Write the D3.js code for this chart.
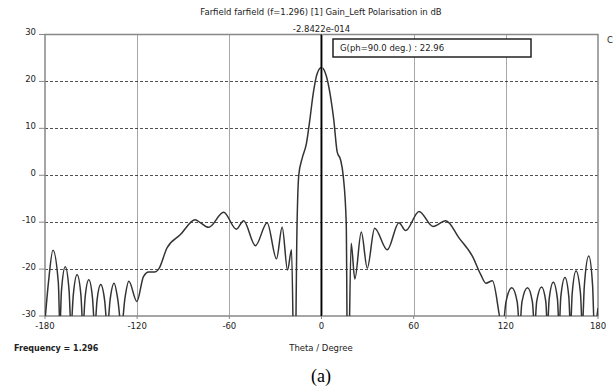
<!DOCTYPE html>
<html>
<head>
<meta charset="utf-8">
<script src="https://cdn.jsdelivr.net/npm/d3@7"></script>
<style>
  body { margin: 0; background: #fff; }
  svg { display: block; }
  text { font-family: "DejaVu Sans", sans-serif; fill: #222; }
</style>
</head>
<body>
<svg id="chart" width="613" height="390"></svg>
<script>
// farfield cut, theta in degrees vs gain in dB (values below -30 are clipped)
const theta = [
  -180, -177.8, -174.8, -171.3, -170.3, -169.3, -166.8, -164.3, -163.1, -161.6, -159.1, -156.6,
  -155.3, -153.9, -151.5, -149.1, -147.6, -146.1, -143.7, -141.2, -139.4, -137.6, -135, -132.6,
  -130.2, -128, -125.4, -120.2, -115.9, -112.5, -108.5, -106, -100.6, -92, -82.2, -78.9, -73.5,
  -63.7, -55.4, -50.7, -43, -35.4, -29.3, -25.6, -22.1, -19.5, -17.5, -15.9, -14.8, -12.6, -9.8,
  -7.6, -5.4, -2.8, 0, 3, 5.9, 8, 10.2, 12.4, 14.1, 16.1, 17.1, 19.3, 21.7, 25.9, 29.8, 34.6,
  42.8, 50.4, 54.8, 63.5, 72.6, 80.9, 89.6, 98.3, 103.7, 107, 111.3,
  118, 120.1, 123.9, 127.4, 129, 130.5, 134.1, 137.3, 138.7, 140.1, 143.3, 146,
  147.1, 148.2, 150.9, 153.6, 154.7, 155.8, 158.5, 161, 162.1, 163.2, 165.7, 168.6,
  169.8, 171.1, 174, 176.5, 177.6, 180];
const gainDb = [
  -31, -23, -16.0, -23, -32.5, -24.7, -19.5, -24.7, -32.5, -25.6, -21.2, -25.6,
  -32.5, -26.1, -22.3, -26.1, -32.5, -26.6, -23.3, -26.6, -32.5, -26.5, -23.0, -26.5,
  -32.5, -26.3, -22.6, -26.9, -21.6, -20.6, -20.6, -20.0, -15.5, -12.7, -9.5, -10.1, -11.1,
  -7.9, -11.5, -9.7, -15.0, -10.1, -17.8, -11.1, -20.2, -15.9, -50, -10.2, 0, 3.6, 6.8,
  11.8, 17.4, 21.7, 22.96, 21.3, 16.7, 11.8, 5.0, 3.3, 0, -10.2, -50, -14.5, -22.1, -12.1, -19.8, -11.3,
  -15.9, -10.1, -11.8, -7.7, -10.9, -9.7, -13.4, -17.3, -21.2, -23, -22.5,
  -32.5, -27, -24, -27, -32.5, -27, -24, -27, -32.5, -26.9, -23.8, -26.9,
  -32.5, -26.4, -22.8, -26.4, -32.5, -25.9, -21.8, -25.9, -32.5, -25.2, -20.4, -25.2,
  -32.5, -23.6, -17.2, -23.6, -32.5, -28.3];

const xTicks = [-180, -120, -60, 0, 60, 120, 180];
const yTicks = [-30, -20, -10, 0, 10, 20, 30];

const titleText = "Farfield farfield (f=1.296) [1] Gain_Left Polarisation in dB";
const markerText = "-2.8422e-014";
const annotText = "G(ph=90.0 deg.) : 22.96";

const svg = d3.select("#chart");
const plotL = 45, plotR = 598, plotT = 34.5, plotB = 316;

const x = d3.scaleLinear().domain([-180, 180]).range([plotL, plotR]);
const y = d3.scaleLinear().domain([-30, 30]).range([plotB, plotT]);

// grid
svg.append("g").selectAll("line").data(yTicks.slice(1, -1)).join("line")
  .attr("x1", plotL).attr("x2", plotR)
  .attr("y1", d => Math.round(y(d)) + 0.5).attr("y2", d => Math.round(y(d)) + 0.5)
  .attr("stroke", "#222").attr("stroke-width", 0.8).attr("stroke-dasharray", "3,2");

svg.append("g").selectAll("line").data(xTicks.slice(1, -1)).join("line")
  .attr("x1", d => Math.round(x(d)) + 0.5).attr("x2", d => Math.round(x(d)) + 0.5)
  .attr("y1", plotT).attr("y2", plotB)
  .attr("stroke", "#222").attr("stroke-width", 0.8).attr("stroke-dasharray", "1,1");

// frame
svg.append("rect")
  .attr("x", plotL).attr("y", plotT).attr("width", plotR - plotL).attr("height", plotB - plotT)
  .attr("fill", "none").attr("stroke", "#888").attr("stroke-width", 1.5);

// ticks + labels
svg.append("g").selectAll("line").data(yTicks).join("line")
  .attr("x1", plotL - 6).attr("x2", plotL)
  .attr("y1", d => y(d)).attr("y2", d => y(d))
  .attr("stroke", "#888").attr("stroke-width", 1);
svg.append("g").selectAll("text").data(yTicks).join("text")
  .attr("x", 36).attr("y", d => y(d) + 0.5)
  .attr("text-anchor", "end").attr("font-size", 8.5)
  .text(d => d);

svg.append("g").selectAll("line").data(xTicks).join("line")
  .attr("x1", d => x(d)).attr("x2", d => x(d))
  .attr("y1", plotB).attr("y2", plotB + 3)
  .attr("stroke", "#888").attr("stroke-width", 1);
svg.append("g").selectAll("text").data(xTicks).join("text")
  .attr("x", d => x(d)).attr("y", 329)
  .attr("text-anchor", "middle").attr("font-size", 8.5)
  .text(d => d);

// curve
svg.append("clipPath").attr("id", "clip")
  .append("rect").attr("x", plotL).attr("y", plotT).attr("width", plotR - plotL).attr("height", plotB - plotT);

const line = d3.line()
  .x((d, i) => x(theta[i]))
  .y(d => y(d))
  .curve(d3.curveMonotoneX);

svg.append("path")
  .datum(gainDb)
  .attr("clip-path", "url(#clip)")
  .attr("fill", "none").attr("stroke", "#333").attr("stroke-width", 1.5)
  .attr("d", line);

// marker line at theta = 0
svg.append("line")
  .attr("x1", x(0)).attr("x2", x(0)).attr("y1", plotT).attr("y2", plotB)
  .attr("stroke", "#000").attr("stroke-width", 2);
svg.append("line")
  .attr("x1", x(0) + 1).attr("x2", x(0) + 1).attr("y1", plotT).attr("y2", plotB)
  .attr("stroke", "#fff").attr("stroke-width", 0.8).attr("stroke-dasharray", "1,1");

// annotation box
svg.append("rect")
  .attr("x", 333).attr("y", 39).attr("width", 198).attr("height", 18)
  .attr("fill", "#fff").attr("stroke", "#222").attr("stroke-width", 1.5);
svg.append("text").attr("x", 340).attr("y", 51).attr("font-size", 8.5).text(annotText);

// titles
svg.append("text").attr("x", 321).attr("y", 15).attr("text-anchor", "middle")
  .attr("font-size", 8.5).text(titleText);
svg.append("text").attr("x", x(0)).attr("y", 32).attr("text-anchor", "middle")
  .attr("font-size", 8.5).text(markerText);
svg.append("text").attr("x", 607).attr("y", 43).attr("font-size", 8.5).text("C");

svg.append("text").attr("x", 14).attr("y", 351)
  .attr("font-size", 8).attr("font-weight", "bold").text("Frequency = 1.296");
svg.append("text").attr("x", 321).attr("y", 351).attr("text-anchor", "middle")
  .attr("font-size", 8.5).text("Theta / Degree");

svg.append("text").attr("x", 321).attr("y", 382).attr("text-anchor", "middle")
  .style("font-family", "'Liberation Serif', serif").attr("font-size", 18).style("fill", "#000")
  .text("(a)");
</script>
</body>
</html>
